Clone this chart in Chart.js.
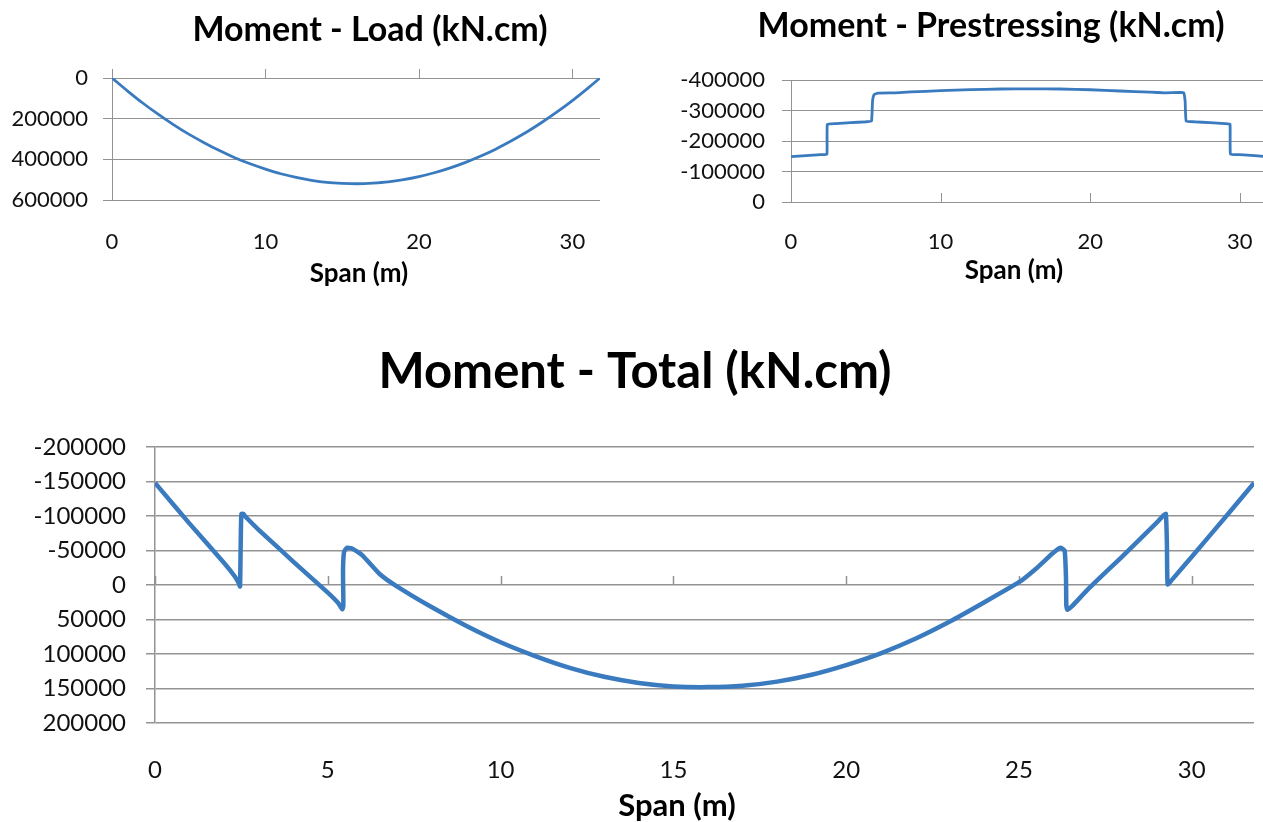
<!DOCTYPE html>
<html>
<head>
<meta charset="utf-8">
<title>Moment diagrams</title>
<script src="https://cdn.jsdelivr.net/npm/chart.js@4.4.1/dist/chart.umd.min.js"></script>
<style>
    html, body { margin: 0; padding: 0; background: #fff; }
    body { width: 1263px; height: 822px; position: relative; overflow: hidden; }
    .chart-box { position: absolute; }
    .chart-box canvas { display: block; }
    #loadBox { left: 0; top: 0; }
    #prestressBox { left: 660px; top: 0; }
    #totalBox { left: 0; top: 320px; }
</style>
</head>
<body>
<div class="chart-box" id="loadBox"><canvas id="loadChart" width="620" height="300"></canvas></div>
<div class="chart-box" id="prestressBox"><canvas id="prestressChart" width="620" height="300"></canvas></div>
<div class="chart-box" id="totalBox"><canvas id="totalChart" width="1263" height="502"></canvas></div>

<script>
// ============================================
// DATA (kN.cm)
// ============================================

// Moment from the load (positive = sagging)
const loadSpan = [0, 1, 2, 3, 4, 5, 6, 7, 8, 9, 10, 11, 12, 13, 14, 15, 16,
    17, 18, 19, 20, 21, 22, 23, 24, 25, 26, 27, 28, 29, 30, 31, 31.8];
const loadMoment = [0, 63000, 123000, 178000, 229000, 276000, 318000, 357000, 392000, 422000,
    448000, 471000, 489000, 503000, 513000, 518000, 520000, 517000, 511000, 500000, 485000,
    466000, 443000, 416000, 385000, 350000, 310000, 267000, 219000, 167000, 111000, 51000, 0];

// Moment from the prestressing (stepped at the tendon anchorages)
const prestressSpan = [0, 1, 2, 2.4, 2.43, 3, 4, 5, 5.38, 5.45, 5.55, 5.8, 7, 8, 10, 12, 14,
    16, 18, 20, 22, 24, 25, 26, 26.25, 26.35, 26.42, 27, 28, 29, 29.35, 29.38, 30, 31, 31.8];
const prestressMoment = [-149000, -152000, -155000, -157000, -255000, -257000, -260000, -263000,
    -265000, -330000, -352000, -357000, -358000, -361000, -365000, -368500, -370500, -371000,
    -370500, -368000, -364000, -360000, -358000, -359000, -358000, -330000, -265000, -263000,
    -260000, -257000, -255000, -157000, -155000, -152000, -149000];

// Total moment (load + prestressing)
const totalSpan = [0, 1, 2, 2.3, 2.42, 2.46, 2.48, 2.5, 2.56, 2.6, 3, 4, 5, 5.3, 5.42, 5.45,
    5.44, 5.47, 5.55, 5.7, 6, 6.5, 7, 8, 9, 10, 11, 12, 13, 14, 15, 16, 17, 18, 19, 20, 21, 22,
    23, 24, 25, 25.5, 26, 26.2, 26.32, 26.36, 26.37, 26.4, 26.55, 27, 28, 29, 29.18, 29.25,
    29.28, 29.3, 29.4, 30, 31, 31.8];
const totalMoment = [-148000, -89000, -32000, -13000, -3000, 2000, -60000, -103000, -103000,
    -100000, -80000, -34000, 11000, 26000, 35000, 30000, -20000, -48000, -54000, -53000, -43000,
    -16000, 2000, 32000, 59000, 83000, 103000, 120000, 133000, 142000, 147000, 148000, 146000,
    140000, 130000, 116000, 99000, 78000, 53000, 25000, -4000, -24000, -47000, -54000, -50000,
    -10000, 30000, 36000, 30000, 6000, -42000, -91000, -101000, -103000, -60000, -1000, -6000,
    -41000, -100000, -148000];

// Axis ranges and tick steps
const spanMax = 31.8;
const loadAxis = [0, 600000, 200000];
const prestressAxis = [-400000, 0, 100000];
const totalAxis = [-200000, 200000, 50000];

// ============================================
// STYLE
// ============================================

const LINE_COLOR = '#3a7abf';
const GRID_COLOR = '#939393';
const TEXT_COLOR = '#111111';
const FONT_FAMILY = 'Lato, "Open Sans", sans-serif';

Chart.defaults.font.family = FONT_FAMILY;
Chart.defaults.color = TEXT_COLOR;

function toPoints(xs, ys) {
    return xs.map((x, i) => ({ x: x, y: ys[i] }));
}

// Titles drawn at fixed spots, the way the spreadsheet placed them
function captionPlugin(items) {
    return {
        id: 'captions',
        afterDraw(chart) {
            const ctx = chart.ctx;
            for (const item of items) {
                ctx.save();
                ctx.font = `bold ${item.size}px ${FONT_FAMILY}`;
                ctx.fillStyle = '#000';
                ctx.textAlign = 'center';
                ctx.textBaseline = 'middle';
                ctx.fillText(item.text, item.x, item.y);
                ctx.restore();
            }
        },
    };
}

// Small tick marks on the zero line of the value axis
function zeroTickPlugin(length, width) {
    return {
        id: 'zeroTicks',
        beforeDatasetsDraw(chart) {
            const { ctx, scales } = chart;
            const y0 = scales.y.getPixelForValue(0);
            ctx.save();
            ctx.strokeStyle = GRID_COLOR;
            ctx.lineWidth = width;
            for (const tick of scales.x.ticks) {
                const px = Math.round(scales.x.getPixelForValue(tick.value)) + 0.5;
                ctx.beginPath();
                ctx.moveTo(px, y0);
                ctx.lineTo(px, y0 - length);
                ctx.stroke();
            }
            ctx.restore();
        },
    };
}

function buildChart(canvasId, cfg) {
    const ctx = document.getElementById(canvasId);
    return new Chart(ctx, {
        type: 'scatter',
        data: {
            datasets: [
                {
                    data: toPoints(cfg.xs, cfg.ys),
                    showLine: true,
                    borderColor: LINE_COLOR,
                    borderWidth: cfg.lineWidth,
                    pointRadius: 0,
                    pointHoverRadius: 0,
                    tension: cfg.tension,
                    fill: false,
                },
            ],
        },
        options: {
            responsive: false,
            animation: false,
            events: [],
            layout: { padding: cfg.padding },
            plugins: {
                legend: { display: false },
                tooltip: { enabled: false },
                title: { display: false },
            },
            scales: {
                x: {
                    type: 'linear',
                    position: 'bottom',
                    min: 0,
                    max: spanMax,
                    afterFit: (scale) => { scale.height = cfg.xHeight; },
                    grid: { display: false, drawTicks: false },
                    border: { display: false },
                    ticks: {
                        stepSize: cfg.xStep,
                        includeBounds: false,
                        padding: cfg.xPad,
                        maxRotation: 0,
                        font: { size: cfg.tickSize },
                        color: TEXT_COLOR,
                        callback: (v) => String(v),
                    },
                },
                y: {
                    type: 'linear',
                    reverse: true,
                    min: cfg.yAxis[0],
                    max: cfg.yAxis[1],
                    afterFit: (scale) => { scale.width = cfg.yWidth; },
                    grid: {
                        color: GRID_COLOR,
                        lineWidth: cfg.gridWidth,
                        drawTicks: true,
                        tickLength: 9,
                    },
                    border: { display: true, color: GRID_COLOR, width: cfg.gridWidth },
                    ticks: {
                        stepSize: cfg.yAxis[2],
                        padding: cfg.yPad,
                        font: { size: cfg.tickSize },
                        color: TEXT_COLOR,
                        callback: (v) => String(v),
                    },
                },
            },
        },
        plugins: [captionPlugin(cfg.captions), zeroTickPlugin(9, cfg.gridWidth)],
    });
}

// ============================================
// CHARTS
// ============================================

buildChart('loadChart', {
    xs: loadSpan,
    ys: loadMoment,
    yAxis: loadAxis,
    xStep: 10,
    lineWidth: 2.8,
    tension: 0.3,
    gridWidth: 1,
    tickSize: 22,
    padding: { top: 78, right: 20, left: 0, bottom: 0 },
    yWidth: 112,
    xHeight: 100,
    yPad: 15,
    xPad: 29,
    captions: [
        { text: 'Moment - Load (kN.cm)', size: 34, x: 370, y: 30 },
        { text: 'Span (m)', size: 26, x: 359, y: 274 },
    ],
});

buildChart('prestressChart', {
    xs: prestressSpan,
    ys: prestressMoment,
    yAxis: prestressAxis,
    xStep: 10,
    lineWidth: 2.8,
    tension: 0.1,
    gridWidth: 1,
    tickSize: 22,
    padding: { top: 80, right: 9, left: 0, bottom: 0 },
    yWidth: 131,
    xHeight: 98,
    yPad: 17,
    xPad: 27,
    captions: [
        { text: 'Moment - Prestressing (kN.cm)', size: 34, x: 331, y: 26 },
        { text: 'Span (m)', size: 26, x: 354, y: 271 },
    ],
});

buildChart('totalChart', {
    xs: totalSpan,
    ys: totalMoment,
    yAxis: totalAxis,
    xStep: 5,
    lineWidth: 4.5,
    tension: 0.15,
    gridWidth: 1.5,
    tickSize: 24,
    padding: { top: 127, right: 9, left: 0, bottom: 0 },
    yWidth: 155,
    xHeight: 99,
    yPad: 20,
    xPad: 33,
    captions: [
        { text: 'Moment - Total (kN.cm)', size: 49, x: 635, y: 52 },
        { text: 'Span (m)', size: 31, x: 677, y: 486 },
    ],
});
</script>
</body>
</html>
